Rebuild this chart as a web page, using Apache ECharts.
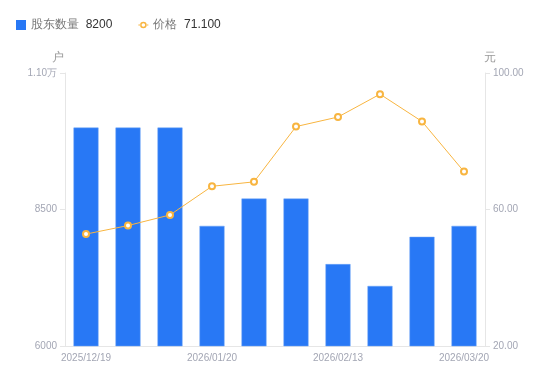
<!DOCTYPE html>
<html><head><meta charset="utf-8">
<script src="https://cdn.jsdelivr.net/npm/echarts@6/dist/echarts.min.js"></script>
<style>html,body{margin:0;padding:0;background:#fff}#c{width:550px;height:381px}</style>
</head><body><div id="c"></div>
<script>
const categories = ['2025/12/19','2025/12/31','2026/01/09','2026/01/20','2026/01/30','2026/02/10','2026/02/13','2026/02/28','2026/03/10','2026/03/20'];
const holders = [10000, 10000, 10000, 8200, 8700, 8700, 7500, 7100, 8000, 8200];
const prices = [52.8, 55.3, 58.4, 66.8, 68.1, 84.3, 87.1, 93.8, 85.8, 71.1];
const leftTicks = [6000, 8500, 11000];
const rightTicks = [20, 60, 100];

const chart = echarts.init(document.getElementById('c'), null, {renderer:'canvas'});
const lastH = holders[holders.length-1];
const lastP = prices[prices.length-1].toFixed(3);
const labelColor = '#a3a6b4';
const lineColor = '#e6e6e6';
const orange = '#f8b540';
const blue = '#2878f5';
const lineIcon = 'path://M0,4.6H2H2V5.4H0Z M8,4.6H10V5.4H8Z M8.3,5A3.3,3.3 0 1 0 1.7,5A3.3,3.3 0 1 0 8.3,5Z M6.8,5A1.8,1.8 0 1 1 3.2,5A1.8,1.8 0 1 1 6.8,5Z';
chart.setOption({
  animation:false,
  legend:{
    left:11, top:14, itemWidth:10, itemHeight:10, itemGap:26,
    data:[{name:'股东数量', icon:'rect', itemStyle:{color:blue, borderWidth:0}},
          {name:'价格', icon:lineIcon, itemStyle:{color:orange, borderWidth:0}}],
    formatter: function(n){ return n==='股东数量' ? '{n|'+n+'}  {v|'+lastH+'}' : '{n|'+n+'}  {v|'+lastP+'}'; },
    textStyle:{ rich:{ n:{color:'#777', fontSize:12}, v:{color:'#333', fontSize:12} } }
  },
  grid:{left:65, right:65, top:73, bottom:35},
  xAxis:{
    type:'category', data:categories,
    axisLine:{lineStyle:{color:lineColor}},
    axisTick:{show:false},
    axisLabel:{color:labelColor, fontSize:10, interval:2, margin:7}
  },
  yAxis:[{
    type:'value', min:6000, max:11000, name:'户',
    nameTextStyle:{color:'#999', fontSize:12, padding:[0,0,0,-14]},
    nameGap:9,
    axisLine:{show:true, lineStyle:{color:lineColor}},
    axisTick:{show:true, length:5, lineStyle:{color:lineColor}, customValues:leftTicks},
    splitLine:{show:false},
    axisLabel:{color:labelColor, fontSize:10, margin:8, customValues:leftTicks,
      formatter:function(v){ return v>=10000 ? (v/10000).toFixed(2)+'万' : String(v); }}
  },{
    type:'value', min:20, max:100, name:'元',
    nameTextStyle:{color:'#999', fontSize:12, padding:[0,0,0,10]},
    nameGap:9,
    axisLine:{show:true, lineStyle:{color:lineColor}},
    axisTick:{show:true, length:5, lineStyle:{color:lineColor}, customValues:rightTicks},
    splitLine:{show:false},
    axisLabel:{color:labelColor, fontSize:10, margin:8, customValues:rightTicks,
      formatter:function(v){ return v.toFixed(2); }}
  }],
  series:[{
    name:'股东数量', type:'bar', data:holders, barWidth:25,
    itemStyle:{color:blue, borderColor:'#6aa2f7', borderWidth:0.5}
  },{
    name:'价格', type:'line', yAxisIndex:1, data:prices,
    symbol:'emptyCircle', symbolSize:6,
    lineStyle:{color:orange, width:1},
    itemStyle:{color:orange, borderWidth:2}
  }]
});
</script></body></html>
